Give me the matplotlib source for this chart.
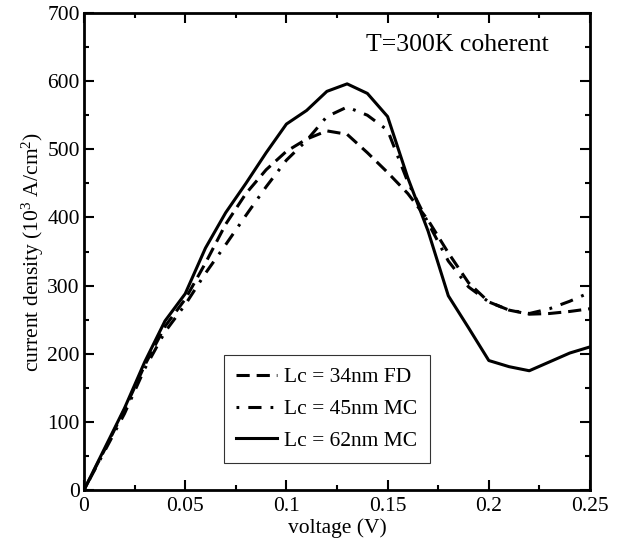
import matplotlib
matplotlib.use("Agg")
import matplotlib.pyplot as plt
from matplotlib.ticker import MultipleLocator, FuncFormatter

# voltage grid and current densities (10^3 A/cm^2)
voltage = [0.00, 0.01, 0.02, 0.03, 0.04, 0.05, 0.06, 0.07, 0.08, 0.09,
           0.10, 0.11, 0.12, 0.13, 0.14, 0.15, 0.16, 0.17, 0.18, 0.19,
           0.20, 0.21, 0.22, 0.23, 0.24, 0.25]

lc34_fd = [0, 58, 118, 183, 240, 280, 333, 390, 435, 470,
           497, 515, 527, 522, 495, 466, 435, 396, 348, 304,
           276, 264, 258, 259, 262, 266]

lc45_mc = [0, 56, 112, 178, 232, 272, 318, 360, 403, 445,
           484, 513, 548, 562, 550, 528, 452, 392, 336, 298,
           276, 264, 259, 266, 277, 290]

lc62_mc = [0, 60, 120, 188, 248, 288, 355, 407, 450, 495,
           537, 557, 585, 596, 582, 548, 458, 380, 285, 238,
           190, 181, 175, 188, 201, 210]

labels = ["Lc = 34nm FD", "Lc = 45nm MC", "Lc = 62nm MC"]

plt.rcParams['font.family'] = ['Liberation Serif', 'DejaVu Serif']
plt.rcParams['mathtext.default'] = 'regular'
plt.rcParams['lines.scale_dashes'] = False

fig = plt.figure(figsize=(6.2, 5.4), dpi=100)
ax = fig.add_axes([84 / 620, 1 - 490 / 540, 506 / 620, 477 / 540])

lw = 2.2
ax.plot(voltage, lc34_fd, color='black', lw=lw, linestyle=(0, (9.5, 5.0)), label=labels[0])
ax.plot(voltage, lc45_mc, color='black', lw=lw, linestyle=(0, (2.0, 6.5, 9.5, 6.5)), label=labels[1])
ax.plot(voltage, lc62_mc, color='black', lw=lw, linestyle='-', label=labels[2])

ax.set_xlim(0, 0.25)
ax.set_ylim(0, 700)
ax.xaxis.set_major_locator(MultipleLocator(0.05))
ax.xaxis.set_minor_locator(MultipleLocator(0.025))
ax.yaxis.set_major_locator(MultipleLocator(100))
ax.yaxis.set_minor_locator(MultipleLocator(50))
ax.xaxis.set_major_formatter(FuncFormatter(lambda v, p: "%g" % round(v, 3)))

ax.tick_params(which='both', direction='in', top=True, right=True, labelsize=15.5)
ax.tick_params(which='major', length=7, width=1.5)
ax.tick_params(which='minor', length=3.6, width=1.5)
ax.tick_params(axis='x', pad=5)
ax.tick_params(axis='y', pad=3)
for s in ax.spines.values():
    s.set_linewidth(2)

ax.set_xlabel("voltage (V)", fontsize=15.5, labelpad=1.5)
ax.set_ylabel("current density (10$^3$ A/cm$^2$)", fontsize=15.5, labelpad=1)

ax.text(0.919, 0.933, "T=300K coherent", transform=ax.transAxes,
        ha='right', va='center', fontsize=18.5)

leg = ax.legend(loc='lower left', bbox_to_anchor=(0.277, 0.057), borderaxespad=0,
                fontsize=15.5, frameon=True, fancybox=False, edgecolor='black',
                handlelength=1.9, handletextpad=0.35, labelspacing=0.55, borderpad=0.55)
leg.get_frame().set_linewidth(0.8)

fig.savefig("out.png", dpi=100)
